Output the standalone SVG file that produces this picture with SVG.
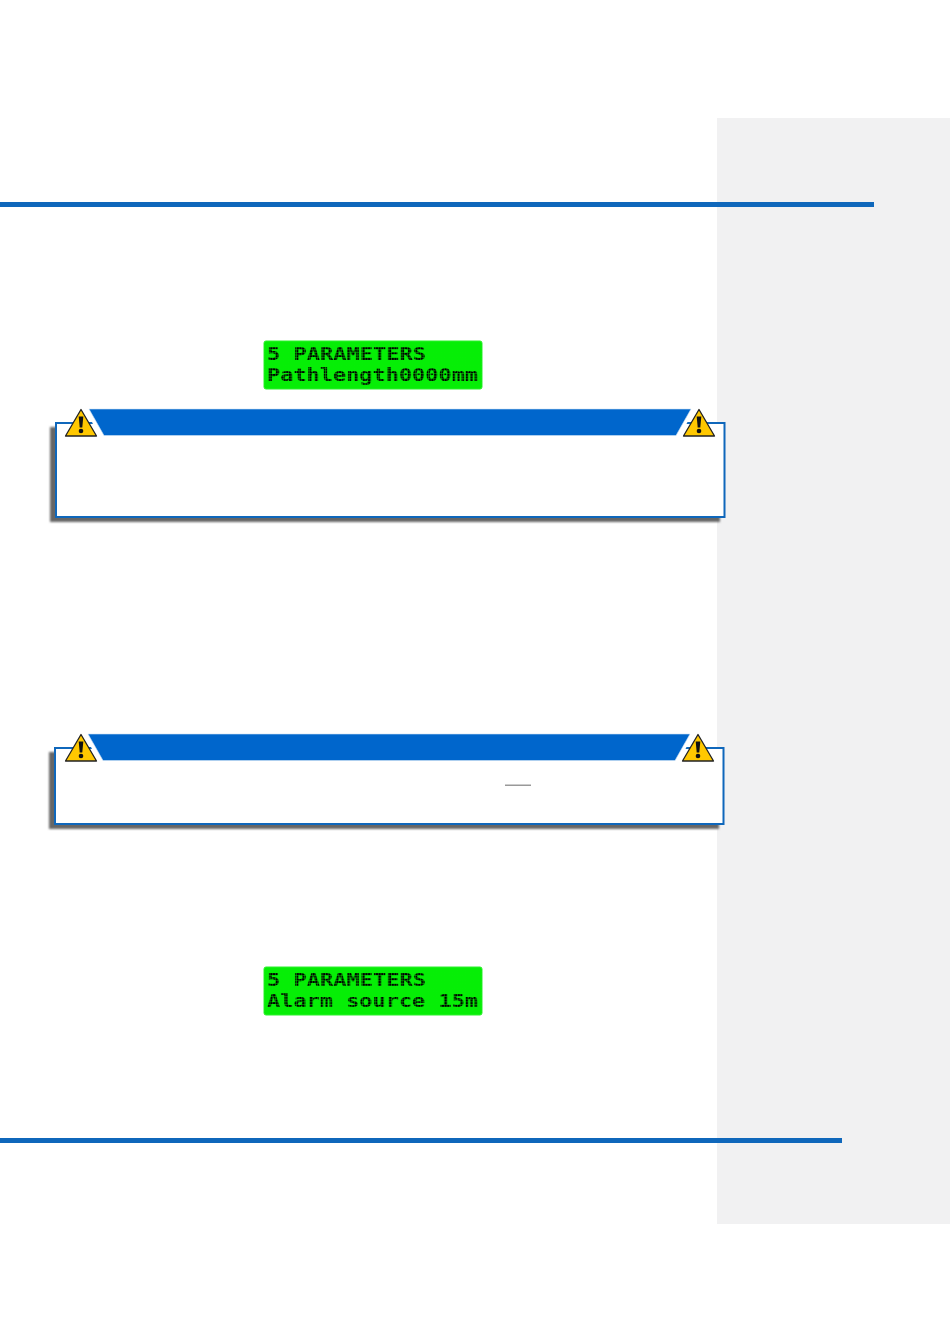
<svg xmlns="http://www.w3.org/2000/svg" width="950" height="1344" viewBox="0 0 950 1344">
<style>
.bar{fill:#0f67bb}
.box{fill:#fff;stroke:#0f67bb;stroke-width:2}
.shadow{fill:#666;filter:url(#soft)}
.banner{fill:#0066cc;stroke:#cfe2f5;stroke-width:.6}
.lcd{fill:#06ee06;stroke:#2cf02c;stroke-width:1}
.lcdt{font-family:"DejaVu Sans Mono","Liberation Mono",monospace;font-size:18px;font-weight:bold;fill:#000}
.tri{fill:#ffc800;stroke:#222;stroke-width:1.3;stroke-linejoin:round}
.ex{fill:#111}
</style>
<defs>
<filter id="soft" x="-5%" y="-10%" width="110%" height="120%"><feGaussianBlur stdDeviation="1.3"/></filter>
<pattern id="dots" x="267" y="344" width="2.64" height="2.64" patternUnits="userSpaceOnUse"><path d="M0 0H2.64M0 0V2.64" stroke="#06ee06" stroke-width=".8" fill="none"/></pattern>
<g id="warn"><path class="tri" d="M0 0L15.500 26.500H-15.500Z"/><path class="ex" d="M-2.300 7H2.300L1.300 18H-1.300Z"/><circle class="ex" cx="0" cy="21.500" r="2.300"/></g>
</defs>
<rect width="950" height="1344" fill="#fff"/>
<rect id="sidebar" x="717" y="118" width="233" height="1106" fill="#f1f1f2"/>
<rect id="top-rule" class="bar" x="0" y="202" width="874" height="5"/>
<rect id="bottom-rule" class="bar" x="0" y="1138" width="842" height="5"/>
<g id="lcd-1">
<rect class="lcd" x="264" y="341" width="218" height="48" rx="2"/>
<text class="lcdt" x="267" y="360" textLength="159" lengthAdjust="spacingAndGlyphs">5 PARAMETERS</text>
<text class="lcdt" x="267" y="381" textLength="211" lengthAdjust="spacingAndGlyphs">Pathlength0000mm</text>
<rect x="264" y="343" width="218" height="44" fill="url(#dots)"/>
</g>
<g id="warning-1">
<rect class="shadow" x="50" y="427" width="670" height="95"/>
<rect class="box" x="56" y="423" width="668.500" height="94"/>
<path d="M84 405H696L679 439H100Z" fill="#fff"/>
<path class="banner" d="M89 409H691L676 435.500H104Z"/>
<use href="#warn" x="81" y="409.500"/>
<use href="#warn" x="699" y="409.500"/>
</g>
<g id="warning-2">
<rect class="shadow" x="49" y="752" width="670" height="77"/>
<rect class="box" x="55" y="748" width="668.500" height="76"/>
<path d="M83 730H695L678 764H99Z" fill="#fff"/>
<path class="banner" d="M88 734H690L675 760.500H103Z"/>
<use href="#warn" x="81" y="734.500"/>
<use href="#warn" x="698" y="734.500"/>
<rect x="505" y="784.500" width="26" height="1.500" fill="#999"/>
</g>
<g id="lcd-2">
<rect class="lcd" x="264" y="967" width="218" height="48" rx="2"/>
<text class="lcdt" x="267" y="986" textLength="159" lengthAdjust="spacingAndGlyphs">5 PARAMETERS</text>
<text class="lcdt" x="267" y="1007" textLength="211" lengthAdjust="spacingAndGlyphs">Alarm source 15m</text>
<rect x="264" y="969" width="218" height="44" fill="url(#dots)"/>
</g>
<g id="connectors"/>
</svg>
